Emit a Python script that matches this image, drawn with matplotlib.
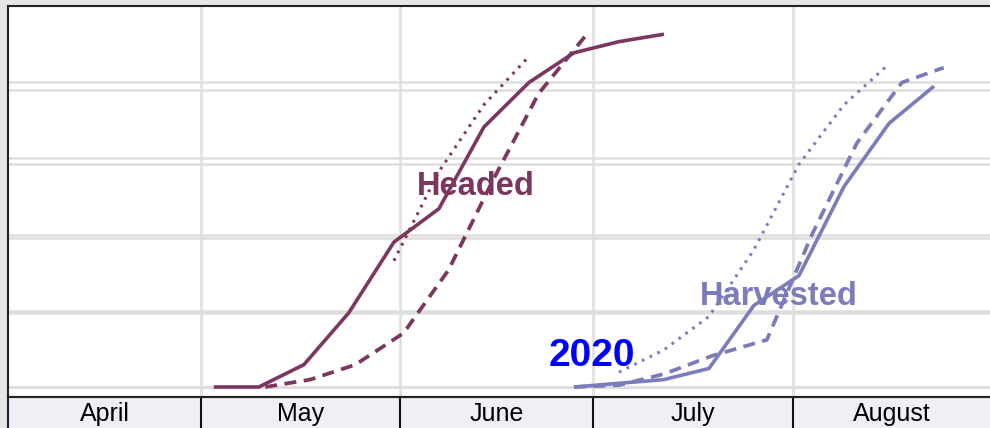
import matplotlib
matplotlib.use("Agg")
import matplotlib.pyplot as plt

# x values are days since April 1
months = ["April", "May", "June", "July", "August"]
month_starts = [0, 30, 61, 91, 122, 153]

headed_2020_days = [32, 39, 46, 53, 60, 67, 74, 81, 88, 95, 102]
headed_2020 = [0, 0, 6, 20, 39, 48, 70, 82, 90, 93, 95]
headed_prev_days = [40, 47, 54, 61.5, 68.5, 75.5, 82.5, 90]
headed_prev = [0, 2, 6, 14.5, 31.5, 56, 79, 95]
headed_avg_days = [60, 67, 74, 81]
headed_avg = [34, 58, 76, 89]

harv_2020_days = [88, 95, 102, 109, 116, 123, 130, 137, 144]
harv_2020 = [0, 1, 2, 5, 22, 30, 54, 71, 81]
harv_prev_days = [88, 95, 102, 109.5, 118, 125, 132, 139, 145.5]
harv_prev = [0, 0.5, 3.5, 8.4, 12.7, 41, 65.7, 82, 86]
harv_avg_days = [95, 102, 109, 116, 123, 130, 137]
harv_avg = [4, 10, 19, 37, 60, 76, 87]

grid_a = [0, 20, 40, 60, 80]

HEAD_C = "#7c3761"
HARV_C = "#7a7db9"
GRID_C = "#dedede"

W, H = 990, 428
fig = plt.figure(figsize=(W / 100, H / 100), dpi=100)
fig.patch.set_facecolor("#e6e6e6")

left = 8 / W
ax = fig.add_axes([left, 31 / H, 1 - left, (397 - 6) / H])
ax.set_xlim(0, 152.7)
ax.set_ylim(-2.69, 102.6)

# secondary gridline set (slightly different scale)
ax_b = ax.twinx()
ax_b.set_ylim(-2.62, 100.0)
ax_b.set_yticks([])
for s in ax_b.spines.values():
    s.set_visible(False)
ax_b.set_zorder(0)
ax_b.patch.set_visible(True)
ax_b.patch.set_facecolor("white")
for g in grid_a:
    ax_b.axhline(g, color=GRID_C, lw=1.8, zorder=0)
ax.set_zorder(1)
ax.patch.set_visible(False)

for g in grid_a:
    ax.axhline(g, color=GRID_C, lw=1.8, zorder=0)
for m in month_starts[1:-1]:
    ax.axvline(m, color=GRID_C, lw=1.8, zorder=0)

ax.plot(headed_2020_days, headed_2020, color=HEAD_C, lw=2.6, solid_capstyle="butt", zorder=3)
ax.plot(headed_prev_days, headed_prev, color=HEAD_C, lw=2.7, ls=(0, (3.2, 2.0)), zorder=3)
ax.plot(headed_avg_days, headed_avg, color=HEAD_C, lw=2.2, ls=(0, (0.9, 1.9)), zorder=3)

ax.plot(harv_2020_days, harv_2020, color=HARV_C, lw=2.6, solid_capstyle="butt", zorder=3)
ax.plot(harv_prev_days, harv_prev, color=HARV_C, lw=2.7, ls=(0, (3.2, 2.0)), zorder=3)
ax.plot(harv_avg_days, harv_avg, color=HARV_C, lw=2.2, ls=(0, (0.9, 1.9)), zorder=3)

ax.text(72.8, 54, "Headed", color=HEAD_C, fontsize=23.5, fontweight="bold",
        family="Liberation Sans", ha="center", va="center", zorder=2)
ax.text(119.8, 24.3, "Harvested", color=HARV_C, fontsize=23.5, fontweight="bold",
        family="Liberation Sans", ha="center", va="center", zorder=2)
ax.text(90.8, 8.3, "2020", color="#0000ff", fontsize=28, fontweight="bold",
        family="Liberation Sans", ha="center", va="center", zorder=4)

ax.set_xticks([])
ax.set_yticks([])
for side in ["top", "left", "bottom"]:
    ax.spines[side].set_color("#222222")
    ax.spines[side].set_linewidth(1.5)
ax.spines["right"].set_visible(False)

# month label strip
axm = fig.add_axes([left, 0, 1 - left, 31 / H])
axm.set_facecolor("#efeff6")
axm.set_xlim(0, 152.7)
axm.set_ylim(0, 1)
axm.set_xticks([])
axm.set_yticks([])
for m in month_starts[1:-1]:
    axm.axvline(m, color="#111111", lw=1.5)
for i, name in enumerate(months):
    axm.text((month_starts[i] + month_starts[i + 1]) / 2, 0.44, name,
             fontsize=18, family="Liberation Sans", ha="center", va="center",
             color="black")
axm.spines["top"].set_color("#222222")
axm.spines["top"].set_linewidth(1.5)
axm.spines["left"].set_color("#222222")
axm.spines["left"].set_linewidth(1.5)
axm.spines["right"].set_visible(False)
axm.spines["bottom"].set_visible(False)

fig.savefig("out.png", dpi=100, facecolor=fig.get_facecolor())
